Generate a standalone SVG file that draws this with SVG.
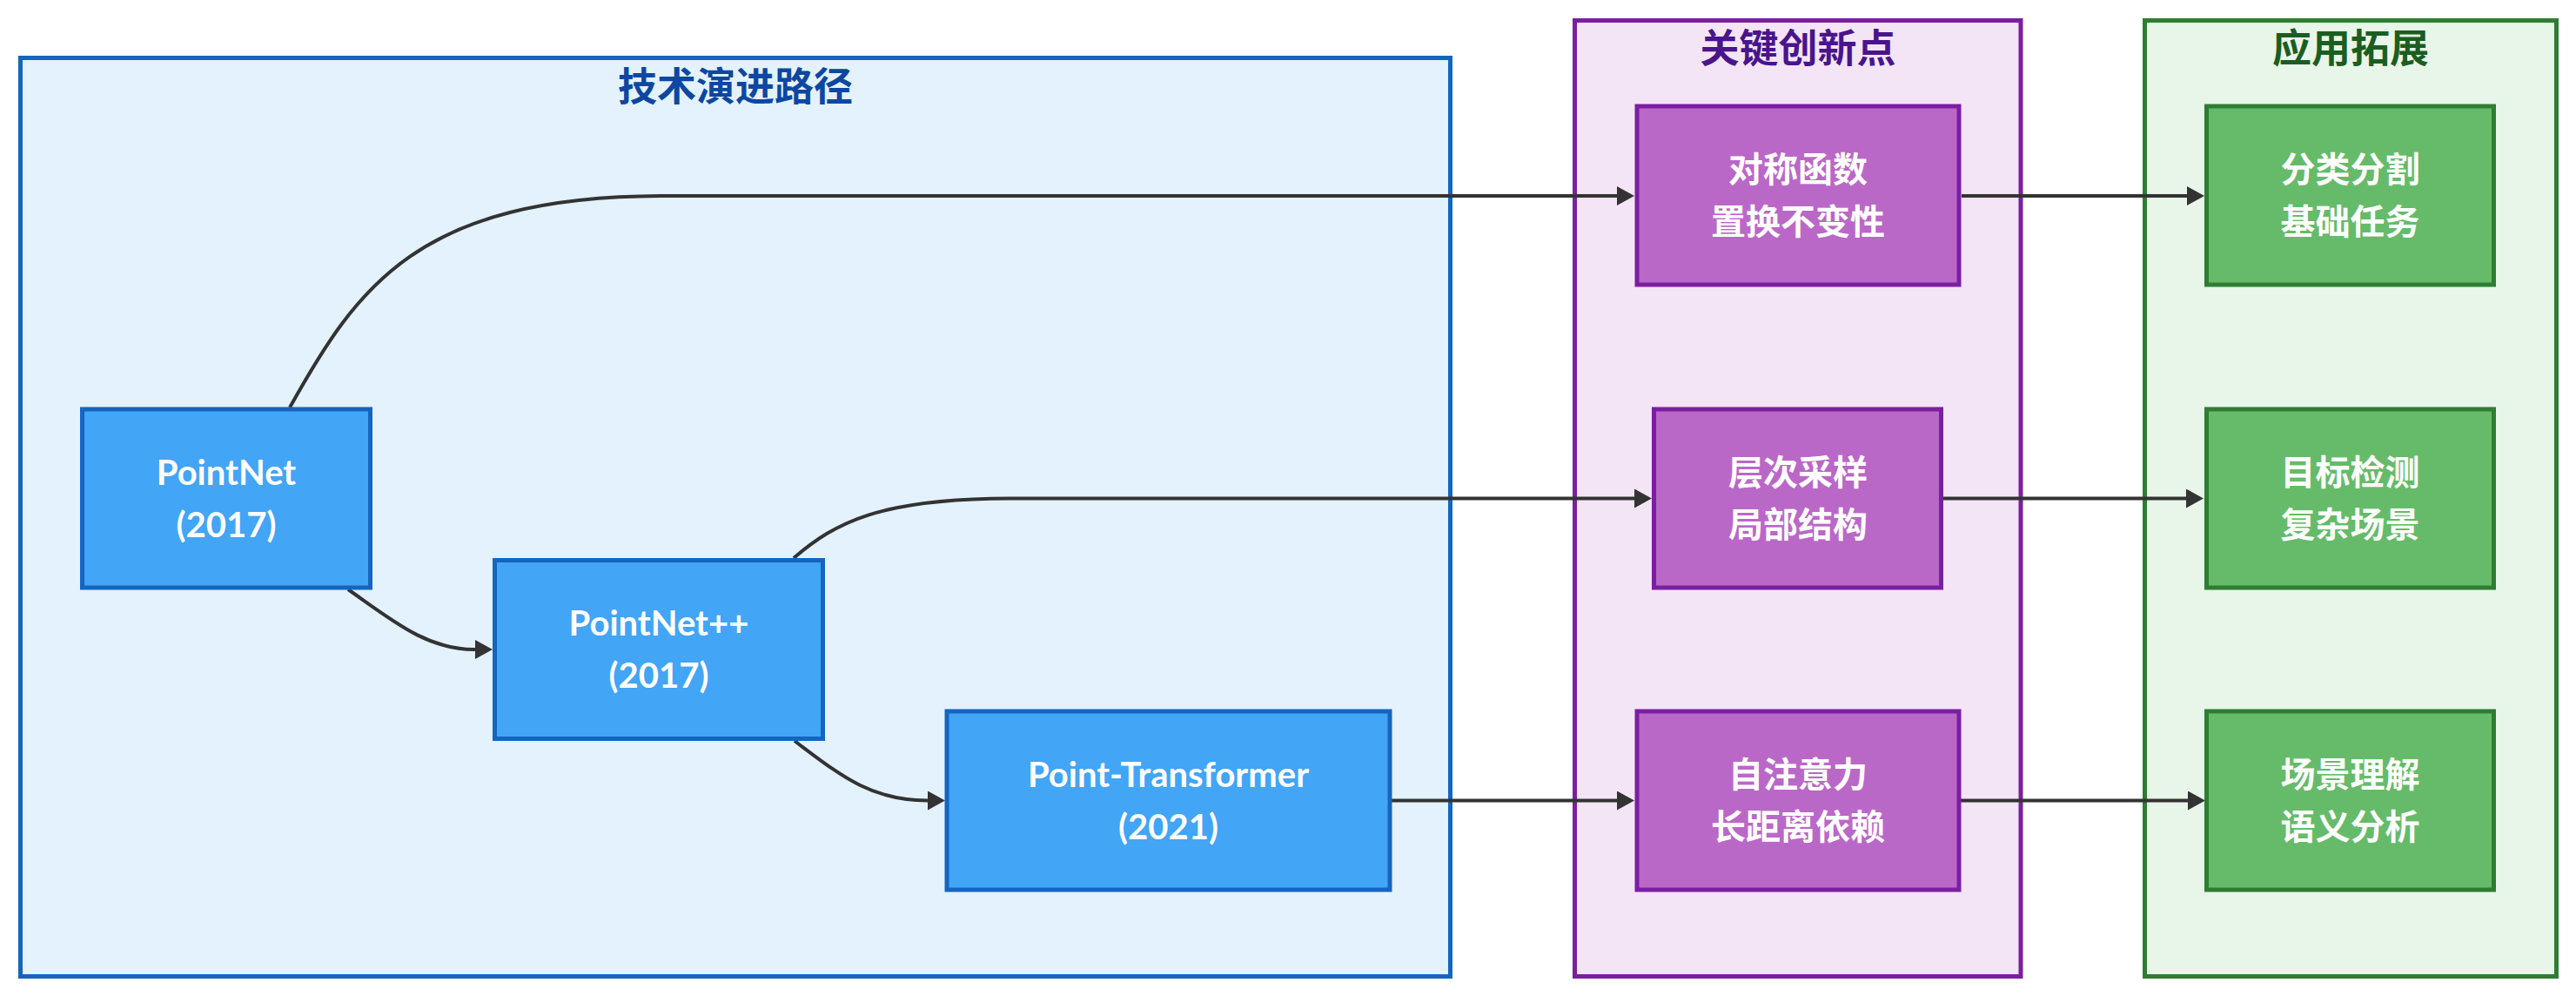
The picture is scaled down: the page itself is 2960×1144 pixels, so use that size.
<svg xmlns="http://www.w3.org/2000/svg" width="2960" height="1144" viewBox="0 0 2960 1144">
<defs>
<style>
text{font-family:"Lato","Noto Sans CJK SC",sans-serif;font-weight:bold;text-anchor:middle}
.ntext{font-size:40px;fill:#ffffff}
.ctitle{font-size:45px}
.cluster{stroke-width:5}
.node rect{stroke-width:5}
.blueC{fill:#E3F2FD;stroke:#1565C0}
.purpleC{fill:#F3E5F5;stroke:#7B1FA2}
.greenC{fill:#E8F5E9;stroke:#2E7D32}
.blueN rect{fill:#42A5F5;stroke:#1565C0}
.purpleN rect{fill:#BA68C8;stroke:#7B1FA2}
.greenN rect{fill:#66BB6A;stroke:#2E7D32}
.edge{fill:none;stroke:#333333;stroke-width:4}
</style>
<marker id="arrow" viewBox="0 0 10 11" refX="5" refY="5.5" markerWidth="20" markerHeight="22" markerUnits="userSpaceOnUse" orient="auto">
<path d="M0,0 L10,5.5 L0,11 z" fill="#333333"/>
</marker>
</defs>
<rect width="2960" height="1144" fill="#ffffff"/>

<g id="cluster-evolution">
<rect class="cluster blueC" x="23.5" y="66.5" width="1643" height="1055"/>
<text class="ctitle" x="845" y="116" fill="#0D47A1">技术演进路径</text>
</g>
<g id="cluster-innovation">
<rect class="cluster purpleC" x="1809.5" y="23.5" width="512.5" height="1098"/>
<text class="ctitle" x="2066" y="72" fill="#4A148C">关键创新点</text>
</g>
<g id="cluster-application">
<rect class="cluster greenC" x="2464.5" y="23.5" width="473" height="1098"/>
<text class="ctitle" x="2701" y="72" fill="#1B5E20">应用拓展</text>
</g>

<g id="connectors">
<path class="edge" marker-end="url(#arrow)" d="M333,468 C410,330 480,226 760,225 L1868,225"/>
<path class="edge" marker-end="url(#arrow)" d="M400,677 C450,712 490,746 545,746 L556,746"/>
<path class="edge" marker-end="url(#arrow)" d="M912,641 C960,600 1010,573 1160,572.5 L1888,572.5"/>
<path class="edge" marker-end="url(#arrow)" d="M913,851 C965,890 1000,919.5 1066,919.5 L1076,919.5"/>
<path class="edge" marker-end="url(#arrow)" d="M1599,919.5 L1868,919.5"/>
<path class="edge" marker-end="url(#arrow)" d="M2254,225 L2523,225"/>
<path class="edge" marker-end="url(#arrow)" d="M2233,572.5 L2522,572.5"/>
<path class="edge" marker-end="url(#arrow)" d="M2253,919.5 L2524,919.5"/>
</g>

<g id="node-pointnet" class="node blueN">
<rect x="94.5" y="470" width="331" height="205"/>
<text class="ntext" x="260" y="556.5">PointNet</text>
<text class="ntext" x="260" y="616.5">(2017)</text>
</g>
<g id="node-pointnetpp" class="node blueN">
<rect x="568.5" y="643.5" width="377" height="205"/>
<text class="ntext" x="757" y="730">PointNet++</text>
<text class="ntext" x="757" y="790">(2017)</text>
</g>
<g id="node-pointtransformer" class="node blueN">
<rect x="1088" y="817" width="509" height="205"/>
<text class="ntext" x="1342.5" y="903.5">Point-Transformer</text>
<text class="ntext" x="1342.5" y="963.5">(2021)</text>
</g>

<g id="node-symmetric" class="node purpleN">
<rect x="1881" y="122" width="370" height="205"/>
<text class="ntext" x="2066" y="208.5">对称函数</text>
<text class="ntext" x="2066" y="268.5">置换不变性</text>
</g>
<g id="node-hierarchical" class="node purpleN">
<rect x="1900.5" y="470" width="330" height="205"/>
<text class="ntext" x="2066" y="556.5">层次采样</text>
<text class="ntext" x="2066" y="616.5">局部结构</text>
</g>
<g id="node-attention" class="node purpleN">
<rect x="1881" y="817" width="370" height="205"/>
<text class="ntext" x="2066" y="903.5">自注意力</text>
<text class="ntext" x="2066" y="963.5">长距离依赖</text>
</g>

<g id="node-classification" class="node greenN">
<rect x="2535.5" y="122" width="330" height="205"/>
<text class="ntext" x="2700.5" y="208.5">分类分割</text>
<text class="ntext" x="2700.5" y="268.5">基础任务</text>
</g>
<g id="node-detection" class="node greenN">
<rect x="2535.5" y="470" width="330" height="205"/>
<text class="ntext" x="2700.5" y="556.5">目标检测</text>
<text class="ntext" x="2700.5" y="616.5">复杂场景</text>
</g>
<g id="node-scene" class="node greenN">
<rect x="2535.5" y="817" width="330" height="205"/>
<text class="ntext" x="2700.5" y="903.5">场景理解</text>
<text class="ntext" x="2700.5" y="963.5">语义分析</text>
</g>
</svg>
